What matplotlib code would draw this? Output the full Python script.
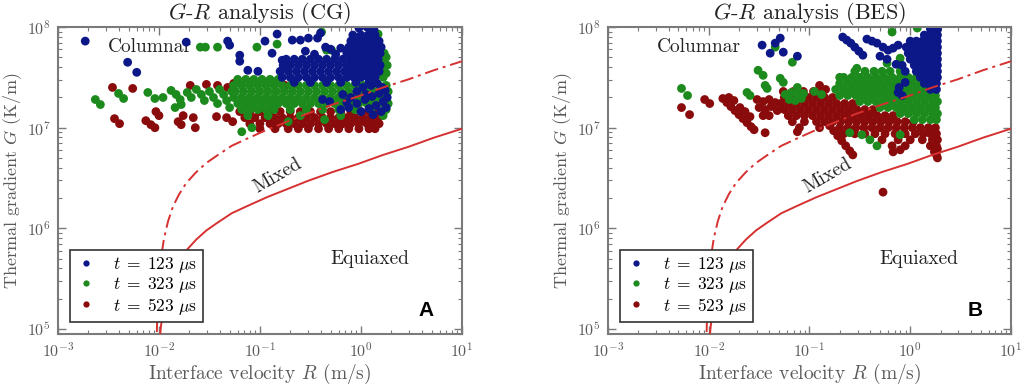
import numpy as np
import matplotlib
matplotlib.use('Agg')
from matplotlib import pyplot as plt
from matplotlib.lines import Line2D
from matplotlib.ticker import LogLocator, NullFormatter

plt.rcParams['font.family'] = ['cmr10', 'DejaVu Serif']
plt.rcParams['mathtext.fontset'] = 'cm'
plt.rcParams['axes.unicode_minus'] = False

''' ---------------- data (log10 R in m/s, log10 G in K/m), read off the figure ---------------- '''
# CET boundary curves (same for both panels)
equiaxed_curve = [(-2.00, 4.81), (-1.98, 5.03), (-1.95, 5.23), (-1.91, 5.40), (-1.86, 5.55),
                  (-1.80, 5.67), (-1.73, 5.78), (-1.63, 5.89), (-1.53, 5.98), (-1.43, 6.05),
                  (-1.28, 6.15), (-1.13, 6.22), (-0.93, 6.31), (-0.73, 6.39), (-0.53, 6.47),
                  (-0.28, 6.56), (-0.03, 6.64), (0.22, 6.73), (0.47, 6.81), (0.72, 6.90), (1.00, 6.99)]
columnar_curve = [(-2.025, 4.71), (-2.02, 5.01), (-2.01, 5.31), (-2.00, 5.48), (-1.98, 5.70),
                  (-1.95, 5.90), (-1.91, 6.07), (-1.86, 6.22), (-1.80, 6.34), (-1.73, 6.45),
                  (-1.63, 6.56), (-1.53, 6.65), (-1.43, 6.72), (-1.28, 6.82), (-1.13, 6.89),
                  (-0.93, 6.98), (-0.73, 7.06), (-0.53, 7.14), (-0.28, 7.23), (-0.03, 7.31),
                  (0.22, 7.40), (0.47, 7.48), (0.72, 7.57), (1.00, 7.66)]

# ---- CG, t = 123 us
cg_blue_pts = [(-2.73, 7.86), (-2.31, 7.65), (-2.22, 7.55), (-1.73, 7.85), (-1.32, 7.86),
               (-1.30, 7.82), (-1.20, 7.72), (-1.20, 7.66), (-1.12, 7.57), (-1.02, 7.56),
               (-0.95, 7.86), (-0.88, 7.74), (-0.83, 7.93), (-0.78, 7.67), (-0.73, 7.60),
               (-0.68, 7.87), (-0.60, 7.87), (-0.52, 7.89), (-0.43, 7.89), (-0.40, 7.94),
               (-0.55, 7.76), (-0.46, 7.73), (-0.35, 7.80), (-0.30, 7.78), (-0.25, 7.73),
               (-0.20, 7.79), (-0.02, 7.99), (0.06, 8.00), (0.13, 7.97),
               (-0.38, 7.28), (-0.31, 7.26), (-0.18, 7.33), (-0.10, 7.30), (-0.04, 7.36),
               (0.02, 7.40), (0.10, 7.42), (0.16, 7.44), (0.21, 7.40), (-0.20, 7.18),
               (-0.12, 7.20), (-0.04, 7.24), (0.04, 7.28), (0.11, 7.31), (0.18, 7.34),
               (0.24, 7.37), (0.00, 7.16), (0.08, 7.19), (0.15, 7.22), (0.22, 7.26),
               (0.26, 7.30), (0.12, 7.13), (0.20, 7.16), (0.25, 7.20), (0.05, 7.33), (-0.14, 7.25)]
cg_blue_rows = [(7.92, [-0.08, 0.00, 0.07, 0.14]),
                (7.86, [-0.10, -0.03, 0.04, 0.11, 0.18]),
                (7.80, [-0.12, -0.05, 0.02, 0.09, 0.16, 0.20]),
                (7.74, [-0.14, -0.07, 0.00, 0.07, 0.14, 0.19]),
                (7.68, [-0.74, -0.66, -0.58, -0.50, -0.42, -0.34, -0.26, -0.18, -0.10, -0.03, 0.04, 0.11, 0.17]),
                (7.62, [-0.77, -0.70, -0.62, -0.54, -0.46, -0.38, -0.30, -0.22, -0.14, -0.07, 0.00, 0.07, 0.14, 0.19]),
                (7.56, [-0.80, -0.72, -0.64, -0.56, -0.48, -0.40, -0.32, -0.24, -0.16, -0.09, -0.02, 0.05, 0.12, 0.18]),
                (7.50, [-0.78, -0.70, -0.62, -0.54, -0.46, -0.38, -0.30, -0.22, -0.14, -0.07, 0.00, 0.07, 0.14]),
                (7.45, [-0.66, -0.50, -0.34, -0.20, -0.05, 0.08])]

# ---- CG, t = 323 us
cg_green_pts = [(-2.63, 7.28), (-2.58, 7.23), (-2.40, 7.34), (-2.35, 7.29), (-2.11, 7.35),
                (-2.04, 7.29), (-1.96, 7.30), (-1.59, 7.80), (-1.54, 7.80), (-1.42, 7.80),
                (-1.03, 7.80), (-0.83, 7.83), (-0.39, 7.95), (-0.34, 7.77), (-0.29, 7.77),
                (0.10, 7.99), (0.17, 7.93),
                (-1.88, 7.37), (-1.83, 7.33), (-1.79, 7.28), (-1.84, 7.20), (-1.78, 7.23),
                (-1.72, 7.35), (-1.68, 7.30), (-1.63, 7.38), (-1.58, 7.33), (-1.55, 7.27),
                (-1.50, 7.36), (-1.46, 7.30), (-1.42, 7.24), (-1.40, 7.38), (-1.36, 7.33),
                (-1.33, 7.27), (-1.30, 7.20), (-1.28, 7.36),
                (-1.18, 6.96), (-1.08, 7.00), (-0.72, 7.06), (-0.36, 7.08),
                (0.22, 7.50), (0.25, 7.54), (0.22, 7.58), (0.26, 7.62), (0.21, 7.66),
                (0.25, 7.70), (0.19, 7.53), (0.23, 7.74)]
cg_green_rows = [(7.48, [-1.22, -1.14, -1.06, -0.98, -0.90, -0.82]),
                 (7.42, [-1.26, -1.18, -1.10, -1.02, -0.94, -0.86, -0.78, -0.70, -0.62, -0.54,
                         -0.46, -0.38, -0.30, -0.22, -0.14, -0.06, 0.02, 0.10, 0.18, 0.25]),
                 (7.36, [-1.24, -1.16, -1.08, -1.00, -0.92, -0.84, -0.76, -0.68, -0.60, -0.52,
                         -0.44, -0.36, -0.28, -0.20, -0.12, -0.04, 0.04, 0.12, 0.20, 0.27]),
                 (7.30, [-1.26, -1.18, -1.10, -1.02, -0.94, -0.86, -0.78, -0.70, -0.62, -0.54,
                         -0.46, -0.38, -0.30, -0.22, -0.14, -0.06, 0.02, 0.10, 0.18, 0.25]),
                 (7.24, [-1.22, -1.14, -1.06, -0.98, -0.90, -0.82, -0.74, -0.66, -0.58, -0.50,
                         -0.42, -0.34, -0.26, -0.18, -0.10, -0.02, 0.06, 0.14, 0.22, 0.27]),
                 (7.18, [-1.18, -1.10, -1.02, -0.94, -0.86, -0.70, -0.54, -0.38, -0.22, -0.06, 0.10, 0.25]),
                 (7.12, [-1.12, -0.92, -0.60, -0.20, 0.22])]

# ---- CG, t = 523 us
cg_red_pts = [(-2.46, 7.40), (-2.26, 7.39), (-2.44, 7.09), (-2.39, 7.04), (-2.13, 7.07),
              (-2.08, 7.03), (-2.04, 7.00), (-2.03, 7.16), (-2.00, 7.12), (-1.81, 7.06),
              (-1.78, 7.03), (-1.76, 7.12), (-1.66, 7.10), (-1.64, 7.00), (-1.69, 7.42),
              (-1.53, 7.43), (-1.42, 7.42), (-1.32, 7.40), (-1.26, 7.44), (-0.75, 7.42),
              (-0.68, 7.42), (-1.43, 7.11), (-1.33, 7.10), (-1.27, 7.06)]
cg_red_rows = [(7.16, [-1.20, -1.10, -1.00, -0.90, -0.80, -0.70, -0.60, -0.50, -0.40, -0.30,
                       -0.20, -0.10, 0.00, 0.08, 0.14]),
               (7.10, [-1.15, -1.05, -0.95, -0.86, -0.78, -0.70, -0.62, -0.54, -0.46, -0.38,
                       -0.30, -0.22, -0.14, -0.06, 0.02, 0.10, 0.17]),
               (7.04, [-1.10, -1.00, -0.90, -0.82, -0.74, -0.66, -0.58, -0.50, -0.42, -0.34,
                       -0.26, -0.18, -0.10, -0.02, 0.06, 0.13, 0.18]),
               (6.99, [-1.00, -0.85, -0.72, -0.62, -0.52, -0.42, -0.32, -0.22, -0.12, -0.02, 0.08, 0.14])]

# ---- BES, t = 123 us
bes_blue_pts = [(-1.47, 7.82), (-1.39, 7.74), (-1.34, 7.84), (-1.29, 7.89), (-1.26, 7.75),
                (-1.12, 7.71), (-0.67, 7.90), (-0.63, 7.87), (-0.59, 7.84), (-0.55, 7.80),
                (-0.51, 7.76), (-0.47, 7.72), (-0.43, 7.88), (-0.38, 7.86), (-0.33, 7.84),
                (-0.27, 7.80), (-0.22, 7.77), (-0.17, 7.79), (-0.12, 7.82), (-0.30, 7.71),
                (-0.23, 7.68), (-0.14, 7.63), (-0.08, 7.62), (-0.05, 7.56), (-0.12, 7.35),
                (-0.08, 7.32), (-0.11, 7.40), (-0.05, 7.45)]
bes_blue_rows = [(7.98, [0.20, 0.25, 0.27]),
                 (7.92, [0.14, 0.20, 0.25, 0.27]),
                 (7.86, [0.00, 0.06, 0.12, 0.18, 0.23, 0.27]),
                 (7.80, [-0.04, 0.02, 0.08, 0.14, 0.20, 0.25, 0.27]),
                 (7.74, [-0.02, 0.04, 0.10, 0.16, 0.22, 0.27]),
                 (7.68, [0.00, 0.06, 0.12, 0.18, 0.24, 0.27]),
                 (7.62, [0.04, 0.10, 0.16, 0.22, 0.27]),
                 (7.56, [0.06, 0.12, 0.18, 0.24, 0.27]),
                 (7.50, [0.10, 0.16, 0.22, 0.27]),
                 (7.44, [0.14, 0.20, 0.26]),
                 (7.38, [0.20, 0.26])]

# ---- BES, t = 323 us
bes_green_pts = [(-2.27, 7.39), (-2.21, 7.32), (-1.62, 7.35), (-1.59, 7.32), (-1.51, 7.57),
                 (-1.46, 7.52), (-1.44, 7.42), (-1.42, 7.39), (-1.29, 7.49), (-1.26, 7.45),
                 (-1.34, 7.80), (-1.17, 7.65), (-1.12, 7.40), (-1.24, 7.33), (-1.18, 7.35),
                 (-1.12, 7.33), (-1.06, 7.34), (-1.20, 7.28), (-1.14, 7.27), (-1.08, 7.29),
                 (-0.18, 7.95), (0.07, 7.99), (-0.70, 7.50), (-0.53, 7.59), (-0.23, 7.64),
                 (-0.10, 7.69), (-0.60, 6.95), (-0.48, 6.93), (-0.40, 6.88), (-0.33, 6.82),
                 (-0.10, 6.93), (-0.95, 7.36), (-0.88, 7.33)]
bes_green_rows = [(7.56, [-0.55, -0.45, -0.36, -0.28, -0.20, -0.10]),
                  (7.50, [-0.66, -0.58, -0.50, -0.42, -0.34, -0.26, -0.18, -0.10, -0.02, 0.06]),
                  (7.44, [-0.70, -0.62, -0.54, -0.46, -0.38, -0.30, -0.22, -0.14, -0.06, 0.02, 0.10]),
                  (7.38, [-0.74, -0.66, -0.58, -0.50, -0.42, -0.34, -0.26, -0.18, -0.10, -0.02, 0.06, 0.14, 0.20]),
                  (7.32, [-0.70, -0.62, -0.54, -0.46, -0.38, -0.30, -0.22, -0.14, -0.06, 0.02, 0.10, 0.18, 0.25]),
                  (7.26, [-0.50, -0.42, -0.34, -0.26, -0.18, -0.10, -0.02, 0.06, 0.14, 0.22, 0.27]),
                  (7.20, [-0.30, -0.22, -0.14, -0.06, 0.02, 0.10, 0.18, 0.25]),
                  (7.14, [-0.10, -0.02, 0.06, 0.14, 0.22, 0.27]),
                  (7.08, [0.04, 0.12, 0.20, 0.26])]

# ---- BES, t = 523 us
bes_red_pts = [(-2.27, 7.20), (-2.19, 7.13), (-2.04, 7.28), (-1.99, 7.24), (-0.27, 6.36),
               (-1.86, 7.29), (-1.82, 7.25), (-1.78, 7.21), (-1.74, 7.17), (-1.70, 7.13),
               (-1.66, 7.09), (-1.62, 7.05), (-1.58, 7.01), (-1.55, 6.98), (-1.80, 7.30),
               (-1.75, 7.27), (-1.69, 7.20), (-1.64, 7.16), (-1.59, 7.11), (-1.52, 7.28),
               (-1.46, 7.26), (-1.40, 7.28), (-1.34, 7.25), (-1.50, 7.20), (-1.44, 7.18),
               (-1.38, 7.21), (-1.32, 7.17), (-1.46, 7.12), (-1.40, 7.12), (-1.44, 6.95),
               (-1.12, 6.96), (-0.90, 7.42), (-0.84, 7.38), (-0.80, 7.02), (-0.76, 6.97),
               (-0.72, 6.92), (-0.68, 6.87), (-0.64, 6.82), (-0.60, 6.77), (-0.57, 6.73),
               (-0.17, 6.76), (-0.10, 6.78), (0.27, 6.70), (0.26, 6.73), (0.27, 6.79), (0.24, 6.76)]
bes_red_rows = [(7.36, [-1.26, -1.16, -1.06, -0.96, -0.88]),
                (7.30, [-1.25, -1.17, -1.09, -1.01, -0.93, -0.85, -0.77]),
                (7.24, [-1.29, -1.21, -1.13, -1.05, -0.97, -0.89, -0.81, -0.73, -0.65, -0.57]),
                (7.18, [-1.25, -1.17, -1.09, -1.01, -0.93, -0.85, -0.77, -0.69, -0.61, -0.53, -0.45, -0.37]),
                (7.12, [-1.21, -1.13, -1.05, -0.97, -0.89, -0.81, -0.73, -0.65, -0.57, -0.49,
                        -0.41, -0.33, -0.25, -0.17]),
                (7.06, [-1.17, -1.05, -0.93, -0.85, -0.77, -0.69, -0.61, -0.53, -0.45, -0.37,
                        -0.29, -0.21, -0.13, -0.05, 0.03]),
                (7.00, [-1.10, -0.90, -0.70, -0.62, -0.54, -0.46, -0.38, -0.30, -0.22, -0.14,
                        -0.06, 0.02, 0.10, 0.18, 0.25]),
                (6.94, [-0.66, -0.55, -0.45, -0.35, -0.25, -0.15, -0.05, 0.05, 0.13, 0.20, 0.26]),
                (6.88, [-0.28, -0.12, 0.00, 0.12, 0.22, 0.27]),
                (6.82, [-0.18, -0.05, 0.20, 0.26])]

x_ticks = [1e-3, 1e-2, 1e-1, 1e0, 1e1]
x_tick_labels = [r'$10^{-3}$', r'$10^{-2}$', r'$10^{-1}$', r'$10^{0}$', r'$10^{1}$']
y_ticks = [1e5, 1e6, 1e7, 1e8]
y_tick_labels = [r'$10^{5}$', r'$10^{6}$', r'$10^{7}$', r'$10^{8}$']
series_labels = [r'$t\;=\;123\ \mu\mathrm{s}$', r'$t\;=\;323\ \mu\mathrm{s}$', r'$t\;=\;523\ \mu\mathrm{s}$']
panel_titles = [r'$G$-$R$ analysis (CG)', r'$G$-$R$ analysis (BES)']
panel_letters = ['A', 'B']

c_blue = '#0c1788'
c_green = '#1c8a1c'
c_red = '#8a0b0b'
c_line = '#d63030'
c_axis = '#7a7a7a'
c_label = '#5a5a5a'


def expand(pts, rows):
    lr = [p[0] for p in pts] + [x for g, xs in rows for x in xs]
    lg = [p[1] for p in pts] + [g for g, xs in rows for x in xs]
    return 10 ** np.array(lr), 10 ** np.array(lg)


def curve(c):
    a = np.array(c)
    return 10 ** a[:, 0], 10 ** a[:, 1]


panels = [
    [(cg_red_pts, cg_red_rows, c_red), (cg_green_pts, cg_green_rows, c_green), (cg_blue_pts, cg_blue_rows, c_blue)],
    [(bes_red_pts, bes_red_rows, c_red), (bes_green_pts, bes_green_rows, c_green), (bes_blue_pts, bes_blue_rows, c_blue)],
]

fig = plt.figure(figsize=(10.24, 3.86), dpi=100)
axes = [fig.add_axes([0.0566, 0.1347, 0.3945, 0.7953]),
        fig.add_axes([0.5937, 0.1347, 0.3936, 0.7953])]

for k, ax in enumerate(axes):
    ax.set_xscale('log')
    ax.set_yscale('log')

    for pts, rows, col in panels[k]:
        R, G = expand(pts, rows)
        ax.scatter(R, G, s=40, c=col, edgecolors='none', zorder=2)

    R, G = curve(equiaxed_curve)
    ax.plot(R, G, color=c_line, lw=1.4, zorder=3)
    R, G = curve(columnar_curve)
    ax.plot(R, G, color=c_line, lw=1.4, ls=(0, (7, 2.5, 1.5, 2.5)), zorder=3)

    ax.set_xlim(1e-3, 1e1)
    ax.set_ylim(10 ** 4.951, 1e8)
    ax.set_xticks(x_ticks)
    ax.set_xticklabels(x_tick_labels)
    ax.set_yticks(y_ticks)
    ax.set_yticklabels(y_tick_labels)
    ax.xaxis.set_minor_locator(LogLocator(base=10, subs=np.arange(2, 10), numticks=20))
    ax.yaxis.set_minor_locator(LogLocator(base=10, subs=np.arange(2, 10), numticks=20))
    ax.xaxis.set_minor_formatter(NullFormatter())
    ax.yaxis.set_minor_formatter(NullFormatter())
    ax.tick_params(which='both', direction='in', top=True, right=True, color=c_axis,
                   labelcolor=c_label, labelsize=11.5)
    ax.tick_params(which='major', length=6, width=1.0, pad=5)
    ax.tick_params(which='minor', length=3, width=0.8)
    for sp in ax.spines.values():
        sp.set_color(c_axis)
        sp.set_linewidth(1.5)

    ax.set_xlabel(r'Interface velocity $R$ (m/s)', fontsize=14, color=c_label, labelpad=2)
    ax.set_ylabel(r'Thermal gradient $G$ (K/m)', fontsize=13, color=c_label, labelpad=2)
    ax.set_title(panel_titles[k], fontsize=16, color='#222222', pad=5)

    ax.text(10 ** -2.51, 10 ** 7.80, 'Columnar', fontsize=14, color='#222222',
            ha='left', va='center', zorder=1)
    ax.text(10 ** -0.82, 10 ** 6.52, 'Mixed', fontsize=14, color='#222222',
            ha='center', va='center', rotation=30, zorder=1)
    ax.text(10 ** 0.09, 10 ** 5.70, 'Equiaxed', fontsize=14, color='#222222',
            ha='center', va='center', zorder=1)
    ax.text(0.91, 0.075, panel_letters[k], transform=ax.transAxes, fontsize=15,
            fontweight='bold', family='Liberation Sans', ha='center', va='center')

    handles = [Line2D([], [], ls='none', marker='o', ms=4.5, mec='none', mfc=c)
               for c in (c_blue, c_green, c_red)]
    leg = ax.legend(handles, series_labels, loc='lower left', bbox_to_anchor=(0.03, 0.04),
                    borderaxespad=0, fontsize=12.5, frameon=True, fancybox=False,
                    framealpha=1, edgecolor='#333333', handlelength=1.2,
                    handletextpad=1.0, borderpad=0.3, labelspacing=0.02)
    leg.get_frame().set_linewidth(1.2)
    leg.set_zorder(5)

plt.savefig('out.png', dpi=100)
